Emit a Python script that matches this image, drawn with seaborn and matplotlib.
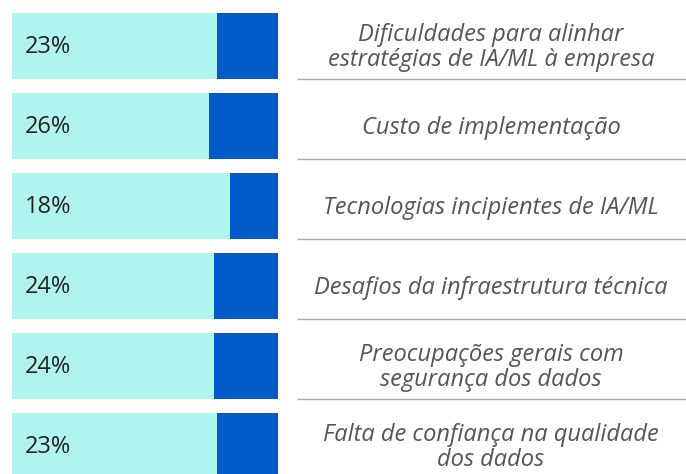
import matplotlib
matplotlib.use("Agg")
import matplotlib.pyplot as plt
import seaborn as sns
import numpy as np

# Data
labels = [
    "Dificuldades para alinhar\nestratégias de IA/ML à empresa",
    "Custo de implementação",
    "Tecnologias incipientes de IA/ML",
    "Desafios da infraestrutura técnica",
    "Preocupações gerais com\nsegurança dos dados",
    "Falta de confiança na qualidade\ndos dados",
]
pct = [23, 26, 18, 24, 24, 23]
total = [100] * len(pct)
rest = [t - p for t, p in zip(total, pct)]

cyan = "#b0f4f0"
blue = "#005ac8"

sns.set_theme(style="white")
plt.rcParams['font.family'] = ['Open Sans', 'DejaVu Sans']

fig = plt.figure(figsize=(6.86, 4.74), dpi=100)
ax = fig.add_axes([0, 0, 1, 1])

# full bar in blue, remainder in cyan drawn on top from the left
sns.barplot(x=total, y=labels, color=blue, width=0.825, saturation=1,
            linewidth=0, ax=ax)
sns.barplot(x=rest, y=labels, color=cyan, width=0.825, saturation=1,
            linewidth=0, ax=ax)

# pixel-matched limits: bar 0..100 spans 12..278 px
unit = 2.66
ax.set_xlim(-12 / unit, (686 - 12) / unit)
ax.set_ylim(5 + (474 - 446) / 80, -46 / 80)

for i, (p, lab) in enumerate(zip(pct, labels)):
    ax.text(13 / unit, i + 0.01, f"{p}%", ha="left", va="center", fontsize=17,
            color="#222222", family=["Open Sans", "DejaVu Sans"])
    ax.text((491 - 12) / unit, i + 0.02, lab, ha="center", va="center", fontsize=17,
            style="italic", color="#555555", linespacing=1.05,
            family=["Open Sans", "DejaVu Sans"])

sep_y = [i + 0.4125 for i in range(len(pct) - 1)]
ax.hlines(sep_y, (297 - 12) / unit, (686 - 12) / unit, color="#aaaaaa", linewidth=1.0)

ax.set_xlabel("")
ax.set_ylabel("")
ax.set_xticks([])
ax.set_yticks([])
for s in ax.spines.values():
    s.set_visible(False)

fig.savefig("out.png", dpi=100)
